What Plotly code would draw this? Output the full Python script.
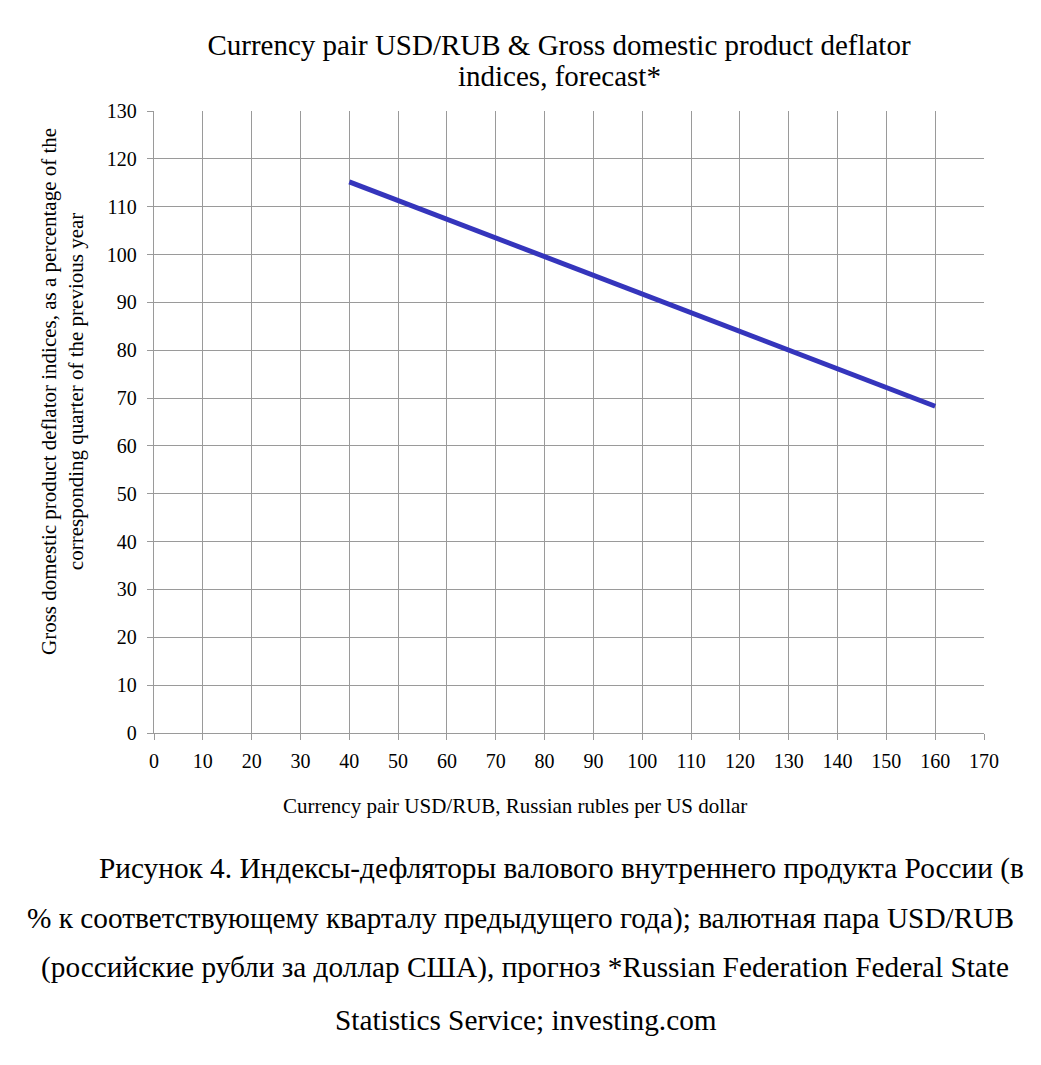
import plotly.graph_objects as go

usd_rub = [40, 160]
deflator = [115.2, 68.3]

x_ticks = list(range(0, 171, 10))
y_ticks = list(range(0, 131, 10))

title_lines = [
    "Currency pair USD/RUB & Gross domestic product deflator",
    "indices, forecast*",
]

caption_lines = [
    "Рисунок 4. Индексы-дефляторы валового внутреннего продукта России (в",
    "% к соответствующему кварталу предыдущего года); валютная пара USD/RUB",
    "(российские рубли за доллар США), прогноз *Russian Federation Federal State",
    "Statistics Service; investing.com",
]

# page body has an 8px margin; work in image coords and convert
OX, OY = 8, 8
W, H = 1041 - OX, 1065 - OY
PL, PR, PT, PB = 154, 984, 111, 733  # plot area in image coords
L, T = PL - OX, PT - OY
R = W - (PR - OX)
B = H - (PB - OY)
plot_w = PR - PL
plot_h = PB - PT


def px(xi):
    return (xi - PL) / plot_w


def py(yi):
    return (PB - yi) / plot_h


fig = go.Figure()
fig.add_trace(go.Scatter(
    x=usd_rub, y=deflator, mode="lines",
    line=dict(color="#3535BC", width=5),
    showlegend=False,
))

serif = "Liberation Serif, Times New Roman, serif"
axis_common = dict(
    showgrid=True, gridcolor="#9a9a9a", gridwidth=1.3,
    showline=True, linecolor="#9a9a9a", linewidth=1.3,
    ticks="outside", ticklen=6, tickcolor="#9a9a9a", tickwidth=1.3,
    tickfont=dict(family=serif, size=20, color="black"),
    zeroline=False, mirror=False,
)

fig.update_layout(
    width=W, height=H,
    margin=dict(l=L, r=R, t=T, b=B),
    paper_bgcolor="white", plot_bgcolor="white",
    title=dict(
        text=title_lines[0],
        font=dict(family=serif, size=29, color="black"),
        x=(559 - OX) / W, xanchor="center", y=1 - (45 - OY) / H, yanchor="middle",
    ),
    xaxis=dict(range=[0, 170], tickvals=x_ticks, ticklabelstandoff=4, **axis_common),
    yaxis=dict(range=[0, 130], tickvals=y_ticks, ticklabelstandoff=6, **axis_common),
)

fig.add_annotation(
    text=title_lines[1],
    xref="paper", yref="paper", x=px(559), y=py(76),
    showarrow=False, xanchor="center", yanchor="middle",
    font=dict(family=serif, size=29, color="black"),
)

fig.add_annotation(
    text="Currency pair USD/RUB, Russian rubles per US dollar",
    xref="paper", yref="paper", x=px(515), y=py(806),
    showarrow=False, xanchor="center", yanchor="middle",
    font=dict(family=serif, size=21, color="black"),
)
fig.add_annotation(
    text="Gross domestic product deflator indices, as a percentage of the<br>corresponding quarter of the previous year",
    xref="paper", yref="paper", x=px(62), y=py(392),
    showarrow=False, xanchor="center", yanchor="middle", textangle=-90,
    font=dict(family=serif, size=21, color="black"),
)

ys = [868, 918, 968, 1020]
xs = [561, 520, 525, 526]
for line, xp, yp in zip(caption_lines, xs, ys):
    fig.add_annotation(
        text=line, xref="paper", yref="paper",
        x=px(xp), y=py(yp),
        showarrow=False, xanchor="center", yanchor="middle",
        font=dict(family=serif, size=29.3, color="black"),
    )

fig.write_html("out.html")
